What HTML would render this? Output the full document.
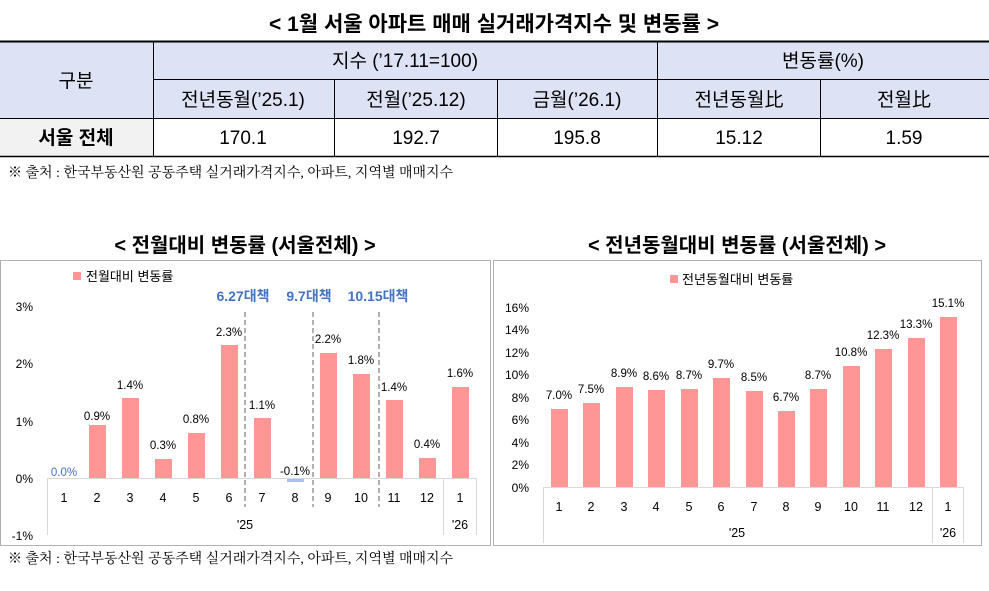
<!DOCTYPE html>
<html><head><meta charset="utf-8"><style>
body{margin:0;background:#fff;width:989px;height:586px;overflow:hidden}
svg text{font-family:"Liberation Sans","Noto Sans CJK KR",sans-serif}
svg text.src{font-family:"Liberation Serif","Noto Serif CJK KR",serif}
</style></head><body>
<svg width="989" height="586" xmlns="http://www.w3.org/2000/svg">
<text x="494" y="31" text-anchor="middle" font-size="21" font-weight="bold" fill="#000">&lt; 1월 서울 아파트 매매 실거래가격지수 및 변동률 &gt;</text>
<rect x="0" y="41" width="989" height="77" fill="#dde3f5"/>
<rect x="0" y="118" width="153" height="38" fill="#f2f2f2"/>
<g stroke="#000" stroke-width="1">
<line x1="0" y1="41.5" x2="989" y2="41.5" stroke-width="2"/>
<line x1="153" y1="79.5" x2="989" y2="79.5"/>
<line x1="0" y1="118.5" x2="989" y2="118.5"/>
<line x1="0" y1="156.5" x2="989" y2="156.5" stroke-width="1.5"/>
<line x1="153.5" y1="41" x2="153.5" y2="156"/>
<line x1="334.5" y1="79" x2="334.5" y2="156"/>
<line x1="497.5" y1="79" x2="497.5" y2="156"/>
<line x1="657.5" y1="41" x2="657.5" y2="156"/>
<line x1="820.5" y1="79" x2="820.5" y2="156"/>
</g>
<g font-size="19" text-anchor="middle" fill="#000">
<text x="76" y="87">구분</text>
<text x="405" y="67">지수 (’17.11=100)</text>
<text x="823" y="67">변동률(%)</text>
<text x="243" y="106">전년동월(’25.1)</text>
<text x="416" y="106">전월(’25.12)</text>
<text x="577" y="106">금월(’26.1)</text>
<text x="739" y="106">전년동월比</text>
<text x="904" y="106">전월比</text>
<text x="76" y="144" font-weight="bold">서울 전체</text>
<text x="243" y="144">170.1</text>
<text x="416" y="144">192.7</text>
<text x="577" y="144">195.8</text>
<text x="739" y="144">15.12</text>
<text x="904" y="144">1.59</text>
</g>
<text class="src" x="8" y="177" font-size="14" fill="#000">※ 출처 : 한국부동산원 공동주택 실거래가격지수, 아파트, 지역별 매매지수</text>
<text x="245" y="252" text-anchor="middle" font-size="20" font-weight="bold">&lt; 전월대비 변동률 (서울전체) &gt;</text>
<text x="737" y="252" text-anchor="middle" font-size="20" font-weight="bold">&lt; 전년동월대비 변동률 (서울전체) &gt;</text>
<rect x="0.5" y="260.5" width="490" height="285" fill="none" stroke="#333" stroke-width="0.8" stroke-dasharray="1,1"/>
<rect x="493.5" y="260.5" width="488" height="285" fill="none" stroke="#333" stroke-width="0.8" stroke-dasharray="1,1"/>
<rect x="73" y="272" width="8" height="8" fill="#ff9696"/>
<text x="86" y="281" font-size="13">전월대비 변동률</text>
<g font-size="12" text-anchor="end" fill="#000">
<text x="33" y="311">3%</text><text x="33" y="368">2%</text><text x="33" y="426">1%</text><text x="33" y="483">0%</text><text x="33" y="540">-1%</text>
</g>
<g font-size="14" font-weight="bold" fill="#4472c4" text-anchor="middle">
<text x="243" y="301">6.27대책</text><text x="309" y="301">9.7대책</text><text x="378" y="301">10.15대책</text>
</g>
<g stroke="#999" stroke-width="1.5" stroke-dasharray="5,3">
<line x1="245" y1="312" x2="245" y2="507"/><line x1="313" y1="312" x2="313" y2="507"/><line x1="379" y1="312" x2="379" y2="507"/>
</g>
<g stroke="#d9d9d9"><line x1="47" y1="478.5" x2="477" y2="478.5"/><line x1="47.5" y1="478" x2="47.5" y2="535"/><line x1="443.5" y1="478" x2="443.5" y2="535"/><line x1="476.5" y1="478" x2="476.5" y2="535"/></g>
<g fill="#ff9696">
<rect x="89" y="425" width="17" height="53"/>
<rect x="122" y="398" width="17" height="80"/>
<rect x="155" y="459" width="17" height="19"/>
<rect x="188" y="433" width="17" height="45"/>
<rect x="221" y="345" width="17" height="133"/>
<rect x="254" y="418" width="17" height="60"/>
<rect x="320" y="353" width="17" height="125"/>
<rect x="353" y="374" width="17" height="104"/>
<rect x="386" y="400" width="17" height="78"/>
<rect x="419" y="458" width="17" height="20"/>
<rect x="452" y="387" width="17" height="91"/>
</g>
<rect x="287" y="479" width="17" height="3" fill="#a9bfe6"/>
<g font-size="11.5" text-anchor="middle" fill="#000">
<text x="64" y="476" fill="#4472c4">0.0%</text>
<text x="97" y="420">0.9%</text><text x="130" y="389">1.4%</text><text x="163" y="449">0.3%</text>
<text x="196" y="423">0.8%</text><text x="229" y="336">2.3%</text><text x="262" y="409">1.1%</text>
<text x="295" y="475">-0.1%</text><text x="328" y="343">2.2%</text><text x="361" y="364">1.8%</text>
<text x="394" y="391">1.4%</text><text x="427" y="448">0.4%</text><text x="460" y="377">1.6%</text>
</g>
<g font-size="12.5" text-anchor="middle" fill="#000">
<text x="64" y="502">1</text><text x="97" y="502">2</text><text x="130" y="502">3</text><text x="163" y="502">4</text><text x="196" y="502">5</text><text x="229" y="502">6</text><text x="262" y="502">7</text><text x="295" y="502">8</text><text x="328" y="502">9</text><text x="361" y="502">10</text><text x="394" y="502">11</text><text x="427" y="502">12</text><text x="460" y="502">1</text>
<text x="245" y="529">'25</text><text x="460" y="529">'26</text>
</g>
<rect x="670" y="275" width="8" height="8" fill="#ff9696"/>
<text x="682" y="284" font-size="13">전년동월대비 변동률</text>
<g font-size="12" text-anchor="end" fill="#000">
<text x="529" y="312">16%</text><text x="529" y="334">14%</text><text x="529" y="357">12%</text><text x="529" y="379">10%</text><text x="529" y="402">8%</text><text x="529" y="424">6%</text><text x="529" y="447">4%</text><text x="529" y="469">2%</text><text x="529" y="492">0%</text>
</g>
<g stroke="#d9d9d9"><line x1="543" y1="487.5" x2="964" y2="487.5"/><line x1="543.5" y1="487" x2="543.5" y2="543"/><line x1="932.5" y1="487" x2="932.5" y2="543"/><line x1="963.5" y1="487" x2="963.5" y2="543"/></g>
<g fill="#ff9696">
<rect x="551" y="409" width="17" height="78"/>
<rect x="583" y="403" width="17" height="84"/>
<rect x="616" y="387" width="17" height="100"/>
<rect x="648" y="390" width="17" height="97"/>
<rect x="681" y="389" width="17" height="98"/>
<rect x="713" y="378" width="17" height="109"/>
<rect x="746" y="391" width="17" height="96"/>
<rect x="778" y="411" width="17" height="76"/>
<rect x="810" y="389" width="17" height="98"/>
<rect x="843" y="366" width="17" height="121"/>
<rect x="875" y="349" width="17" height="138"/>
<rect x="908" y="338" width="17" height="149"/>
<rect x="940" y="317" width="17" height="170"/>
</g>
<g font-size="11.5" text-anchor="middle" fill="#000">
<text x="559" y="399">7.0%</text><text x="591" y="393">7.5%</text><text x="624" y="377">8.9%</text><text x="656" y="380">8.6%</text><text x="689" y="379">8.7%</text><text x="721" y="368">9.7%</text><text x="754" y="381">8.5%</text><text x="786" y="401">6.7%</text><text x="818" y="379">8.7%</text><text x="851" y="356">10.8%</text><text x="883" y="339">12.3%</text><text x="916" y="328">13.3%</text><text x="948" y="307">15.1%</text>
</g>
<g font-size="12.5" text-anchor="middle" fill="#000">
<text x="559" y="511">1</text><text x="591" y="511">2</text><text x="624" y="511">3</text><text x="656" y="511">4</text><text x="689" y="511">5</text><text x="721" y="511">6</text><text x="754" y="511">7</text><text x="786" y="511">8</text><text x="818" y="511">9</text><text x="851" y="511">10</text><text x="883" y="511">11</text><text x="916" y="511">12</text><text x="948" y="511">1</text>
<text x="737" y="537">'25</text><text x="948" y="537">'26</text>
</g>
<text class="src" x="8" y="563" font-size="14" fill="#000">※ 출처 : 한국부동산원 공동주택 실거래가격지수, 아파트, 지역별 매매지수</text>
</svg>
</body></html>
